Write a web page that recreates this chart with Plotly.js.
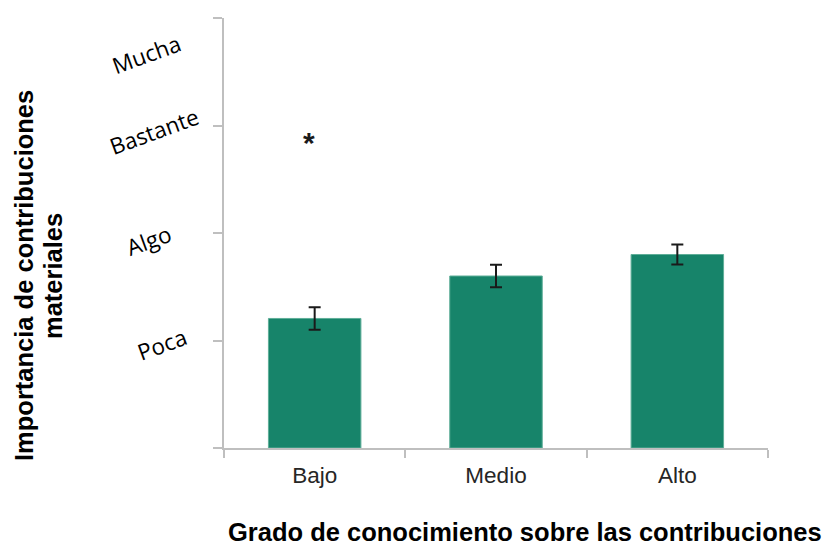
<!DOCTYPE html>
<html>
<head>
<meta charset="utf-8">
<script src="https://cdn.plot.ly/plotly-3.0.1.min.js"></script>
<style>
  html, body { margin: 0; padding: 0; background: #fff; }
  #chart { width: 828px; height: 548px; }
</style>
</head>
<body>
<div id="chart"></div>
<script>
// Knowledge level groups and mean importance of material contributions
var categories = ['Bajo', 'Medio', 'Alto'];
var meanValues = [1.205, 1.60, 1.80];
var errorValues = [0.105, 0.105, 0.093];

// Verbal scale shown beside the y axis (value 1..4)
var scaleLabels = ['Poca', 'Algo', 'Bastante', 'Mucha'];
var scaleLabelY = [0.96, 1.93, 2.94, 3.66];
var scaleLabelShift = [-62, -75, -70, -78];

var significanceMark = '*';

var barColor = '#17846a';
var axisGray = '#bfbfbf';
var sansFont = '"Liberation Sans", Arial, sans-serif';

var trace = {
  type: 'bar',
  x: categories,
  y: meanValues,
  marker: { color: barColor, line: { color: '#5fae98', width: 1 } },
  error_y: {
    type: 'data',
    array: errorValues,
    visible: true,
    color: '#1a1a1a',
    thickness: 2,
    width: 6
  },
  hoverinfo: 'x+y'
};

var annotations = scaleLabels.map(function (lab, i) {
  return {
    text: lab,
    xref: 'paper', x: 0, xanchor: 'center', xshift: scaleLabelShift[i],
    yref: 'y', y: scaleLabelY[i], yanchor: 'middle',
    textangle: -20,
    showarrow: false,
    font: { family: '"Open Sans", Lato, sans-serif', size: 22.5, color: '#000' }
  };
});

// significance marker above the first group
annotations.push({
  text: '<b>' + significanceMark + '</b>',
  xref: 'x', x: categories[0], xshift: -6,
  yref: 'y', y: 2.84, yanchor: 'middle',
  showarrow: false,
  font: { family: sansFont, size: 30, color: '#1a1a1a' }
});

// two-line vertical axis title
annotations.push({
  text: '<b>Importancia de contribuciones</b>',
  xref: 'paper', x: 0, xshift: -200, xanchor: 'center',
  yref: 'paper', y: 0.40, yanchor: 'middle',
  textangle: -90, showarrow: false,
  font: { family: sansFont, size: 25.5, color: '#000' }
});
annotations.push({
  text: '<b>materiales</b>',
  xref: 'paper', x: 0, xshift: -171, xanchor: 'center',
  yref: 'paper', y: 0.40, yanchor: 'middle',
  textangle: -90, showarrow: false,
  font: { family: sansFont, size: 25.5, color: '#000' }
});

// horizontal axis title, set slightly right of the plot centre
annotations.push({
  text: '<b>Grado de conocimiento sobre las contribuciones</b>',
  xref: 'paper', x: 0.553, xanchor: 'center',
  yref: 'paper', y: 0, yanchor: 'middle', yshift: -84,
  showarrow: false,
  font: { family: sansFont, size: 25.5, color: '#000' }
});

var layout = {
  width: 828,
  height: 548,
  margin: { l: 224, r: 60, t: 18, b: 100 },
  paper_bgcolor: '#fff',
  plot_bgcolor: '#fff',
  showlegend: false,
  bargap: 0.49,
  xaxis: {
    type: 'category',
    showline: true, linecolor: axisGray, linewidth: 2,
    ticks: 'outside', tickson: 'boundaries', ticklen: 8, tickcolor: axisGray, tickwidth: 2,
    ticklabelstandoff: 6,
    showgrid: false, zeroline: false,
    tickfont: { family: sansFont, size: 22.5, color: '#262626' }
  },
  yaxis: {
    range: [0, 4],
    tickvals: [0, 1, 2, 3, 4],
    showticklabels: false,
    showline: true, linecolor: axisGray, linewidth: 2,
    ticks: 'outside', ticklen: 9, tickcolor: axisGray, tickwidth: 2,
    showgrid: false, zeroline: false
  },
  annotations: annotations
};

Plotly.newPlot('chart', [trace], layout, { displayModeBar: false, staticPlot: true });
</script>
</body>
</html>
